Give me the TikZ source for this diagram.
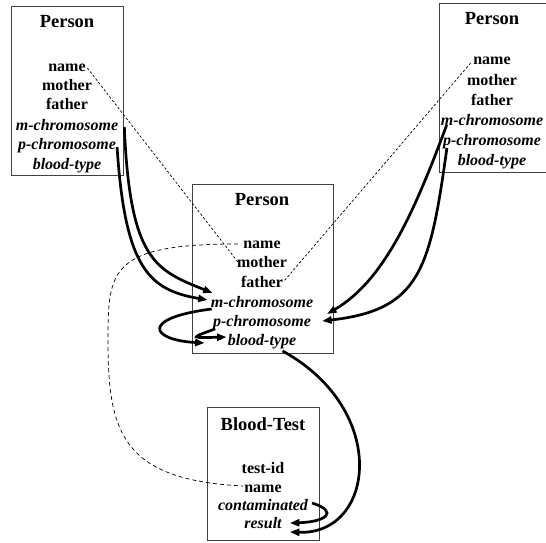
\documentclass[tikz,border=0pt]{standalone}
\usepackage{fontspec}
\setmainfont{Liberation Serif}
\usetikzlibrary{arrows.meta,calc}

\begin{document}
\begin{tikzpicture}[x=1pt,y=-1pt,
  frame/.style={draw=black!75, line width=0.9pt, inner sep=0pt},
  title/.style={anchor=base, inner sep=0pt, font=\fontsize{18.5}{20}\selectfont\bfseries},
  attr/.style={anchor=base, inner sep=0pt, font=\fontsize{16}{18}\selectfont\bfseries},
  iattr/.style={anchor=base, inner sep=0pt, font=\fontsize{16}{18}\selectfont\bfseries\itshape},
  link/.style={line width=0.7pt, dash pattern=on 2.5pt off 2pt},
  longlink/.style={line width=0.7pt, dash pattern=on 4pt off 3pt},
  flow/.style={line width=2.7pt, -{Triangle[length=9.5pt,width=7pt]}},
]
\clip (0,0) rectangle (546,543);

% ---- class frames
\node[frame, minimum width=112pt, minimum height=169pt] (L-box) at (67,90.5) {};
\node[frame, minimum width=112pt, minimum height=169pt] (R-box) at (495,87.5) {};
\node[frame, minimum width=141pt, minimum height=169pt] (M-box) at (262.5,268.5) {};
\node[frame, minimum width=112pt, minimum height=133pt] (B-box) at (263,473.5) {};

% ---- mother (left)
\node[title] (L-title) at (67,28) {Person};
\node[attr]  (L-name)   at (67,71)    {name};
\node[attr]  (L-mother) at (67,90.5)  {mother};
\node[attr]  (L-father) at (67,110)   {father};
\node[iattr] (L-mchr)   at (67,130)   {m-chromosome};
\node[iattr] (L-pchr)   at (67,149.5) {p-chromosome};
\node[iattr] (L-blood)  at (67,169)   {blood-type};

% ---- father (right)
\node[title] (R-title) at (492,25) {Person};
\node[attr]  (R-name)   at (492,65)  {name};
\node[attr]  (R-mother) at (492,85)  {mother};
\node[attr]  (R-father) at (492,105) {father};
\node[iattr] (R-mchr)   at (492,125) {m-chromosome};
\node[iattr] (R-pchr)   at (492,145) {p-chromosome};
\node[iattr] (R-blood)  at (492,165) {blood-type};

% ---- child (middle)
\node[title] (M-title) at (262,205) {Person};
\node[attr]  (M-name)   at (262,248) {name};
\node[attr]  (M-mother) at (262,267) {mother};
\node[attr]  (M-father) at (262,287) {father};
\node[iattr] (M-mchr)   at (262,307) {m-chromosome};
\node[iattr] (M-pchr)   at (262,326) {p-chromosome};
\node[iattr] (M-blood)  at (262,345) {blood-type};

% ---- blood test
\node[title] (B-title) at (263,430) {Blood-Test};
\node[attr]  (B-id)     at (263,473) {test-id};
\node[attr]  (B-name)   at (263,492) {name};
\node[iattr] (B-contam) at (263,510) {contaminated};
\node[iattr] (B-result) at (263,528) {result};

% ---- reference links (dashed)
\draw[link] ($(L-name.base east)+(1.5,-3)$) -- ($(M-mother.base west)+(1,-5)$);
\draw[link] ($(R-name.base west)+(-2.5,-2)$) -- ($(M-father.base east)+(1,-6)$);
\draw[longlink] ($(M-name.base west)+(-5,-4)$)
  .. controls (110,244) and (108,270) .. (108,340)
  .. controls (108,430) and (120,480) .. ($(B-name.base west)+(-1,-6)$);

% ---- inheritance flows (thick)
\draw[flow] ($(L-mchr.base east)+(6,-3)$)
  .. controls (130,260) and (155,270) .. ($(M-mchr.base west)+(2,-14)$);
\draw[flow] ($(L-pchr.base east)+(1,-2.5)$)
  .. controls (125,270) and (150,290) .. ($(M-mchr.base west)+(-3,-7)$);
\draw[flow] ($(R-mchr.base west)+(6,0)$)
  .. controls (415,210) and (385,280) .. ($(M-pchr.base east)+(16,-12)$);
\draw[flow] ($(R-pchr.base west)+(4,3)$)
  .. controls (430,270) and (420,310) .. ($(M-pchr.base east)+(11,-5)$);
\draw[flow] ($(M-mchr.base west)+(1,2)$)
  .. controls (140,318) and (150,340) .. ($(M-blood.base west)+(-23,-2)$);
\draw[flow] ($(M-pchr.base west)+(2,3)$)
  .. controls (190,338) .. ($(M-blood.base west)+(-1,-8)$);
\draw[flow] ($(M-blood.base west)+(55,6)$)
  .. controls (390,410) and (375,535) .. ($(B-result.base east)+(8,4)$);
\draw[flow] ($(B-contam.base east)+(4,-7)$)
  .. controls (340,512) and (325,522) .. ($(B-result.base east)+(8,-5)$);
\end{tikzpicture}
\end{document}
